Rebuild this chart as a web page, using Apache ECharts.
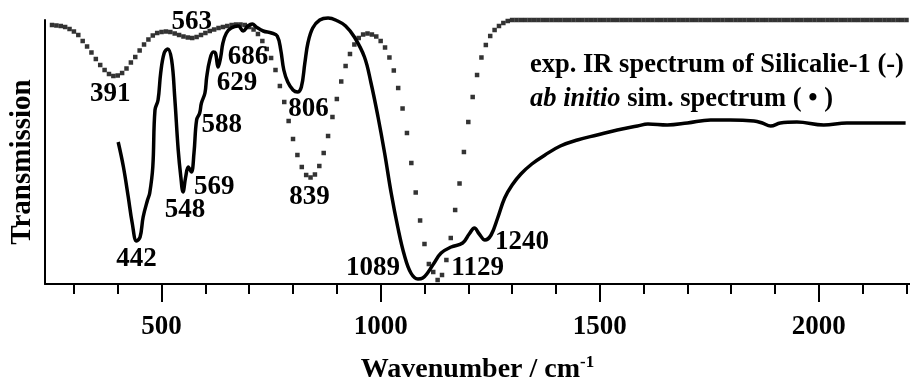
<!DOCTYPE html>
<html>
<head>
<meta charset="utf-8">
<script src="https://cdn.jsdelivr.net/npm/echarts@6/dist/echarts.min.js"></script>
<style>
  html, body { margin: 0; padding: 0; background: #fff; }
  #chart { width: 910px; height: 389px; }
</style>
</head>
<body>
<div id="chart"></div>
<script>
// experimental IR spectrum (solid line)
var expWave = [401, 413, 424, 433, 443, 451, 458, 468, 473, 480, 485, 492, 498, 506, 514, 523, 530, 538, 544, 549,
  555, 561, 568, 574, 580, 587, 591, 599, 603, 610, 618, 623, 629, 635, 640, 648, 659, 675, 686, 697,
  707, 716, 732, 751, 764, 772, 779, 788, 800, 810, 819, 827, 834, 845, 861, 880, 902, 920, 940, 963,
  978, 994, 1009, 1024, 1039, 1054, 1069, 1085, 1096, 1107, 1122, 1138, 1161, 1187, 1202, 1214, 1225, 1238, 1252, 1267,
  1283, 1300, 1320, 1345, 1375, 1410, 1449, 1494, 1540, 1586, 1610, 1654, 1700, 1753, 1798, 1852, 1871, 1890, 1912, 1950,
  2011, 2064, 2125, 2198];
var expTrans = [142, 117, 87, 61, 43, 47, 67, 84, 91, 117, 174, 184, 211, 231, 235, 224, 187, 134, 107, 92,
  107, 117, 112, 131, 164, 171, 181, 191, 207, 224, 232, 231, 217, 227, 241, 251, 256, 258, 253, 258,
  260, 257, 253, 251, 248, 234, 214, 202, 194, 192, 197, 221, 241, 256, 264, 266, 263, 258, 247, 227,
  201, 167, 131, 91, 57, 29, 11, 5, 6, 11, 21, 31, 37, 41, 50, 56, 50, 44, 49, 66,
  86, 99, 110, 120, 129, 138, 144, 149, 154, 158, 160, 159, 161, 164, 164, 163, 161, 158, 161, 162,
  159, 161, 161, 161];

// ab initio simulated spectrum (dots, every 10 cm-1 from 250)
var simStart = 250, simStep = 10;
var simTrans = [259, 258.5, 258, 257, 255, 252.5, 249, 243, 237.5, 231.5,
  225, 219, 214, 210, 208, 208.5, 211, 215.5, 221.5, 227,
  233.5, 239.5, 244.5, 248.5, 251, 252, 252.5, 252, 250.5, 249,
  247.5, 246.5, 246, 247, 249, 251, 253, 254.5, 256, 257,
  258, 259, 259.5, 259.5, 259, 257, 254.5, 250, 243, 235,
  226, 214, 198, 182, 163, 145, 129, 117, 109, 106.5,
  109.5, 118, 131, 148, 167, 185, 202.5, 218, 230, 239.5,
  246, 249.5, 250.5, 249.5, 247.5, 243, 236.5, 226.5, 213.5, 196,
  175.5, 151, 121, 91.5, 63.5, 40, 20, 12, 4, 9,
  24, 46, 74, 100.5, 132, 162, 187, 209, 226.5, 239,
  248, 254, 258, 261, 263, 264, 264, 264, 264, 264,
  264, 264, 264, 264, 264, 264, 264, 264, 264, 264,
  264, 264, 264, 264, 264, 264, 264, 264, 264, 264,
  264, 264, 264, 264, 264, 264, 264, 264, 264, 264,
  264, 264, 264, 264, 264, 264, 264, 264, 264, 264,
  264, 264, 264, 264, 264, 264, 264, 264, 264, 264,
  264, 264, 264, 264, 264, 264, 264, 264, 264, 264,
  264, 264, 264, 264, 264, 264, 264, 264, 264, 264,
  264, 264, 264, 264, 264, 264, 264, 264, 264, 264,
  264, 264, 264, 264, 264, 264];

// axis ticks
var majorTicks = [500, 1000, 1500, 2000];
var minorTicks = [300, 400, 500, 600, 700, 800, 900, 1000, 1100, 1200, 1300, 1400, 1500,
  1600, 1700, 1800, 1900, 2000, 2100, 2200];

// peak labels
var expPeaks = [442, 548, 569, 588, 629, 686, 806, 1089, 1240];
var simPeaks = [391, 563, 839, 1129];

// label offsets (px) from the nearest point on the curve
var expOffsets = [[0, 18], [2, 18], [23, 15], [22, 12], [19, 16], [5, 26], [11, 17], [-45, -11], [37, 2]];
var simOffsets = [[-3, 18], [4, -15], [-1, 20], [40, -12]];

var FONT = 'Liberation Serif';

var expData = expWave.map(function (w, i) { return [w, expTrans[i]]; });
var simData = simTrans.map(function (v, i) { return [simStart + i * simStep, v]; });

function nearest(data, w) {
  var best = data[0];
  data.forEach(function (p) {
    if (Math.abs(p[0] - w) < Math.abs(best[0] - w)) best = p;
  });
  return best;
}

function peakMarks(data, peaks, offsets) {
  return peaks.map(function (w, i) {
    var p = nearest(data, w);
    return {
      name: String(w),
      coord: [p[0], p[1]],
      label: { offset: offsets[i] }
    };
  });
}

var markStyle = {
  symbol: 'circle',
  symbolSize: 1,
  itemStyle: { color: 'rgba(0,0,0,0)' },
  label: {
    show: true,
    position: 'inside',
    formatter: '{b}',
    color: '#000',
    fontFamily: FONT,
    fontWeight: 'bold',
    fontSize: 27
  }
};

var chart = echarts.init(document.getElementById('chart'));
var xRange = { min: 234, max: 2208 };

var option = {
  animation: false,
  backgroundColor: '#fff',
  grid: { left: 43, right: 0, top: 20, bottom: 105 },
  title: {
    left: 525,
    top: 43,
    text: '{b|exp. IR spectrum of Silicalie-1 (-)}\n{i|ab initio}{b| sim. spectrum ( • )}',
    textStyle: {
      rich: {
        b: { fontFamily: FONT, fontWeight: 'bold', fontSize: 26.5, color: '#000', lineHeight: 34 },
        i: { fontFamily: FONT, fontWeight: 'bold', fontStyle: 'italic', fontSize: 26.5, color: '#000', lineHeight: 34 }
      }
    }
  },
  xAxis: [{
    type: 'value',
    position: 'bottom',
    min: xRange.min,
    max: xRange.max,
    name: '{t|Wavenumber / cm}{s|-1}',
    nameLocation: 'middle',
    nameGap: 70,
    nameTextStyle: {
      rich: {
        t: { fontFamily: FONT, fontWeight: 'bold', fontSize: 28, color: '#000', lineHeight: 32 },
        s: { fontFamily: FONT, fontWeight: 'bold', fontSize: 17, color: '#000', verticalAlign: 'top', lineHeight: 14 }
      }
    },
    axisLine: { show: true, lineStyle: { color: '#000', width: 2 } },
    axisTick: { show: true, customValues: majorTicks, length: 18, lineStyle: { color: '#000', width: 2 } },
    axisLabel: {
      show: true, customValues: majorTicks, margin: 30,
      formatter: function (v) { return String(v); },
      fontFamily: FONT, fontWeight: 'bold', fontSize: 27, color: '#000'
    },
    splitLine: { show: false }
  }, {
    type: 'value',
    position: 'bottom',
    min: xRange.min,
    max: xRange.max,
    axisLine: { show: false },
    axisTick: { show: true, customValues: minorTicks, length: 10, lineStyle: { color: '#000', width: 2 } },
    axisLabel: { show: false },
    splitLine: { show: false }
  }],
  yAxis: {
    type: 'value',
    min: 0,
    max: 264,
    name: 'Transmission',
    nameLocation: 'middle',
    nameGap: 8,
    nameTextStyle: {
      fontFamily: FONT, fontWeight: 'bold', fontSize: 29, color: '#000',
      padding: [0, 20, 0, 0]
    },
    axisLine: { show: true, lineStyle: { color: '#000', width: 2 } },
    axisTick: { show: false },
    axisLabel: { show: false },
    splitLine: { show: false }
  },
  series: [{
    name: 'exp',
    type: 'line',
    xAxisIndex: 0,
    data: expData,
    smooth: 0.4,
    showSymbol: false,
    clip: false,
    lineStyle: { color: '#000', width: 3.5 },
    markPoint: Object.assign({ data: peakMarks(expData, expPeaks, expOffsets) }, markStyle)
  }, {
    name: 'sim',
    type: 'scatter',
    xAxisIndex: 0,
    data: simData,
    symbol: 'rect',
    symbolSize: 4.5,
    clip: false,
    itemStyle: { color: '#000' },
    markPoint: Object.assign({ data: peakMarks(simData, simPeaks, simOffsets) }, markStyle)
  }]
};

chart.setOption(option);
</script>
</body>
</html>
